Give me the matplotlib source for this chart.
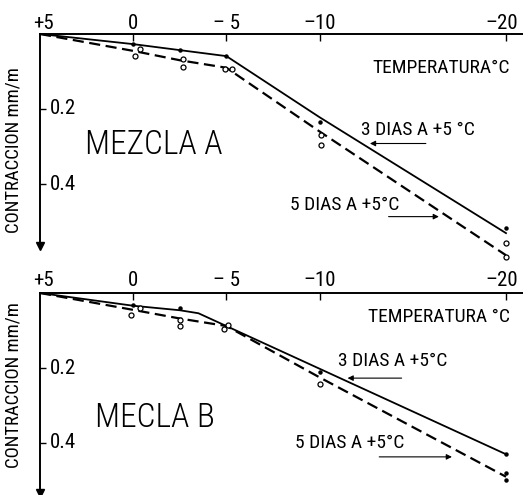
import matplotlib
matplotlib.use("Agg")
import matplotlib.pyplot as plt
from matplotlib.transforms import blended_transform_factory, ScaledTranslation

plt.rcParams["font.family"] = ["Roboto Condensed", "Roboto", "DejaVu Sans"]

# --- data (temperature degC, contraction mm/m) ------------------------------
X_TICKS = [5, 0, -5, -10, -20]
X_TICK_LABELS = ["+5", "0", "\u2013 5", "\u201310", "\u201320"]
Y_TICKS = [0.2, 0.4]
Y_TICK_LABELS = ["0.2", "0.4"]

# Mezcla A
a3_t = [5, 0, -2.5, -5, -10, -20]
a3_v = [0.0, 0.027, 0.043, 0.059, 0.222, 0.531]
a5_t = [5, 0, -2.5, -5, -10, -20]
a5_v = [0.0, 0.045, 0.070, 0.090, 0.260, 0.590]
a_dot_t = [0, -2.5, -5, -10, -20]
a_dot_v = [0.027, 0.043, 0.059, 0.234, 0.518]
a_circ_t = [-0.1, -0.35, -2.65, -2.65, -4.9, -5.3, -10.05, -10.05, -20.0, -20.0]
a_circ_v = [0.058, 0.040, 0.067, 0.087, 0.094, 0.094, 0.269, 0.296, 0.558, 0.594]

# Mecla B
b3_t = [5, 0, -2.5, -3.5, -10, -20]
b3_v = [0.0, 0.034, 0.046, 0.054, 0.202, 0.430]
b5_t = [5, 0, -2.5, -5, -10, -20]
b5_v = [0.0, 0.045, 0.068, 0.088, 0.225, 0.490]
b_dot_t = [0, -2.5, -10, -20, -20, -20]
b_dot_v = [0.032, 0.040, 0.211, 0.428, 0.480, 0.499]
b_circ_t = [0.1, -0.35, -2.5, -2.5, -4.85, -5.1, -10.0]
b_circ_v = [0.059, 0.041, 0.072, 0.088, 0.097, 0.085, 0.242]

PX = 18.64          # pixels per degree in the drawing
FONT_TICK = 15
FONT_LABEL = 14


def setup_axes(fig, ax, ymax, lift):
    ax.set_xlim(5, 5 - 483 / PX)
    ax.set_ylim(ymax, 0)
    for s in ("right", "bottom"):
        ax.spines[s].set_visible(False)
    for s in ("top", "left"):
        ax.spines[s].set_linewidth(1.4)
    ax.xaxis.tick_top()
    ax.set_xticks(X_TICKS[1:])
    ax.set_xticklabels([])
    ax.tick_params(axis="x", direction="in", length=5, width=1.0)
    ax.set_yticks(Y_TICKS)
    ax.set_yticklabels([])
    ax.tick_params(axis="y", direction="in", length=4, width=1.0)
    ax.patch.set_visible(False)
    # tick labels above the axis line (baseline a few px above it)
    tr = blended_transform_factory(ax.transData, ax.transAxes) + \
        ScaledTranslation(0, lift / 100, fig.dpi_scale_trans)
    for t, lab in zip(X_TICKS, X_TICK_LABELS):
        if t == 5:
            t = 4.8
        elif t == -20:
            t = -19.75
        ax.text(t, 1.0, lab, transform=tr,
                ha="center", va="baseline", fontsize=FONT_TICK)
    # y tick labels inside, to the right of the axis
    tr2 = blended_transform_factory(ax.transAxes, ax.transData)
    for v, lab in zip(Y_TICKS, Y_TICK_LABELS):
        ax.text(0.02, v, lab, transform=tr2, ha="left", va="center",
                fontsize=FONT_TICK)
    # arrow head at the bottom of the y axis
    ax.plot([0], [0], marker="v", color="black", markersize=6,
            transform=ax.transAxes, clip_on=False)


def draw_series(ax, t3, v3, t5, v5, dt, dv, ct, cv):
    ax.plot(t3, v3, color="black", lw=1.3, clip_on=False)
    ax.plot(t5, v5, color="black", lw=1.6, dashes=(5, 2.5), clip_on=False)
    ax.plot(dt, dv, ls="none", marker="o", ms=2.2, color="black", clip_on=False)
    ax.plot(ct, cv, ls="none", marker="o", ms=3.6, mfc="white", mec="black",
            mew=0.9, clip_on=False)


def arrow(ax, x0, x1, y):
    ax.annotate("", xy=(x1, y), xytext=(x0, y),
                arrowprops=dict(arrowstyle="-|>", lw=0.8, color="black",
                                mutation_scale=8, shrinkA=0, shrinkB=0))


fig = plt.figure(figsize=(5.23, 4.95), dpi=100)
ax1 = fig.add_axes([40 / 523, 1 - 246 / 495, 483 / 523, 212 / 495])
ax2 = fig.add_axes([40 / 523, 1 - 493 / 495, 483 / 523, 200 / 495])

setup_axes(fig, ax1, 212 / 375, 5)
setup_axes(fig, ax2, 200 / 375, 7)

draw_series(ax1, a3_t, a3_v, a5_t, a5_v, a_dot_t, a_dot_v, a_circ_t, a_circ_v)
draw_series(ax2, b3_t, b3_v, b5_t, b5_v, b_dot_t, b_dot_v, b_circ_t, b_circ_v)

big = dict(fontsize=24, fontweight="light", ha="left", va="center")

# --- panel A annotations ---
ax1.text(-20.2, 0.091, "TEMPERATURA°C", ha="right", va="center", fontsize=FONT_LABEL)
ax1.text(2.6, 0.296, "MEZCLA A", **big)
ax1.text(-12.2, 0.256, "3 DIAS A +5 °C", ha="left", va="center", fontsize=FONT_LABEL)
arrow(ax1, -15.7, -12.7, 0.292)
ax1.text(-8.4, 0.456, "5 DIAS A +5°C", ha="left", va="center", fontsize=FONT_LABEL)
arrow(ax1, -13.7, -16.4, 0.487)

# --- panel B annotations ---
ax2.text(-20.2, 0.064, "TEMPERATURA °C", ha="right", va="center", fontsize=FONT_LABEL)
ax2.text(2.05, 0.333, "MECLA B", **big)
ax2.text(-11.0, 0.181, "3 DIAS A +5°C", ha="left", va="center", fontsize=FONT_LABEL)
arrow(ax2, -14.4, -11.5, 0.227)
ax2.text(-8.7, 0.400, "5 DIAS A +5°C", ha="left", va="center", fontsize=FONT_LABEL)
arrow(ax2, -13.2, -17.1, 0.437)

fig.text(14 / 523, 1 - 150 / 495, "CONTRACCION mm/m", rotation=90,
         ha="center", va="center", fontsize=13.5)
fig.text(14 / 523, 1 - 385 / 495, "CONTRACCION mm/m", rotation=90,
         ha="center", va="center", fontsize=13.5)

fig.savefig("out.png", dpi=100)
